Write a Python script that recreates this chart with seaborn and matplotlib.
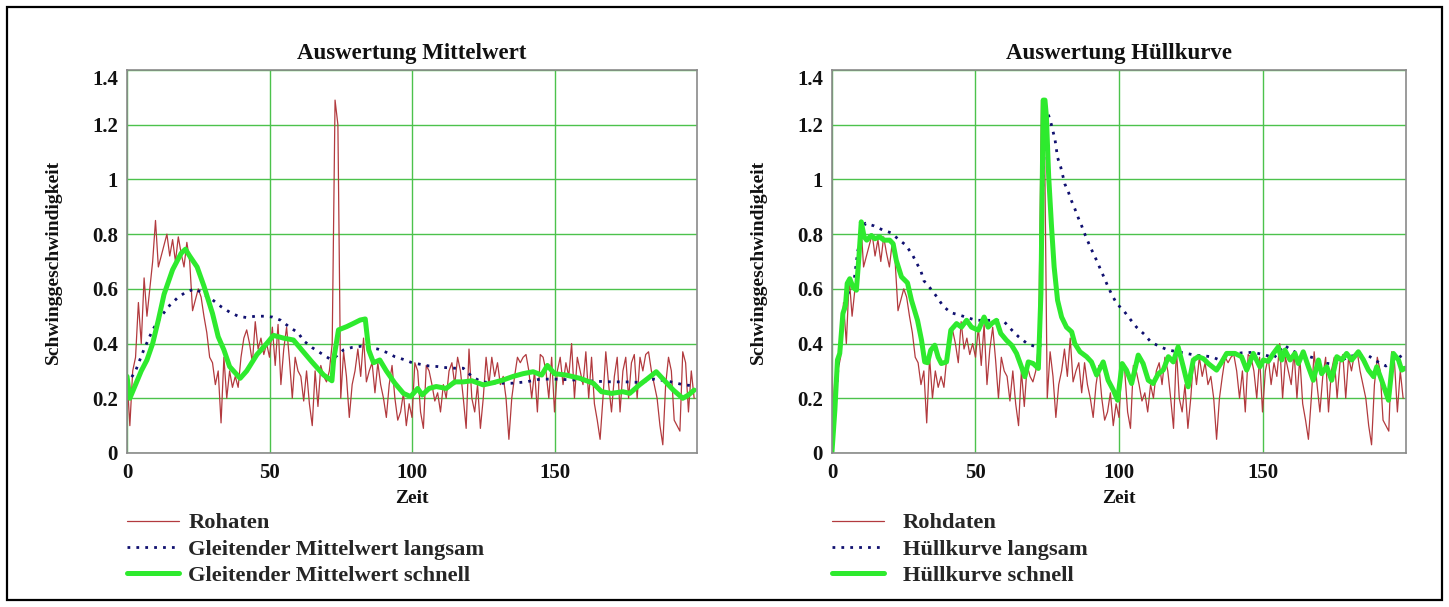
import numpy as np
import pandas as pd
import matplotlib
matplotlib.use("Agg")
import matplotlib.pyplot as plt
from matplotlib.patches import Rectangle
import seaborn as sns

# ---------------- data ----------------
raw_values = [
    0.28, 0.10, 0.30, 0.35, 0.55, 0.40, 0.64, 0.50, 0.60, 0.70,
    0.85, 0.68, 0.72, 0.76, 0.80, 0.72, 0.78, 0.70, 0.79, 0.73,
    0.68, 0.77, 0.70, 0.52, 0.56, 0.60, 0.57, 0.50, 0.44, 0.35,
    0.33, 0.25, 0.30, 0.11, 0.35, 0.20, 0.30, 0.24, 0.28, 0.24,
    0.35, 0.42, 0.45, 0.40, 0.33, 0.48, 0.38, 0.42, 0.36, 0.40,
    0.35, 0.46, 0.32, 0.47, 0.25, 0.38, 0.46, 0.34, 0.20, 0.35,
    0.30, 0.28, 0.19, 0.30, 0.18, 0.10, 0.30, 0.17, 0.32, 0.28,
    0.26, 0.30, 0.40, 1.29, 1.20, 0.20, 0.37, 0.28, 0.13, 0.25,
    0.30, 0.38, 0.28, 0.42, 0.26, 0.30, 0.33, 0.22, 0.33, 0.25,
    0.20, 0.13, 0.25, 0.32, 0.20, 0.12, 0.15, 0.22, 0.10, 0.18,
    0.13, 0.33, 0.30, 0.15, 0.09, 0.32, 0.30, 0.25, 0.19, 0.22,
    0.15, 0.25, 0.20, 0.30, 0.33, 0.25, 0.35, 0.30, 0.20, 0.09,
    0.38, 0.20, 0.15, 0.25, 0.09, 0.20, 0.35, 0.25, 0.35, 0.28,
    0.33, 0.25, 0.28, 0.20, 0.05, 0.20, 0.28, 0.35, 0.33, 0.35,
    0.36, 0.30, 0.20, 0.30, 0.15, 0.36, 0.35, 0.30, 0.20, 0.35,
    0.15, 0.30, 0.35, 0.25, 0.33, 0.28, 0.40, 0.20, 0.35, 0.30,
    0.25, 0.37, 0.20, 0.35, 0.18, 0.12, 0.05, 0.20, 0.37, 0.25,
    0.15, 0.28, 0.35, 0.15, 0.30, 0.35, 0.20, 0.33, 0.36, 0.20,
    0.35, 0.30, 0.36, 0.37, 0.30, 0.25, 0.20, 0.10, 0.03, 0.25,
    0.35, 0.30, 0.12, 0.10, 0.08, 0.37, 0.33, 0.15, 0.30, 0.20,
]
raw_time = list(range(len(raw_values)))

mean_slow_t = [0, 3, 6, 9, 12, 15, 18, 21, 24, 27, 30, 33, 36, 39, 42, 45, 48, 51, 54,
               57, 60, 62, 65, 68, 71, 73, 76, 79, 82, 85, 88, 91, 94, 97, 100, 103,
               106, 109, 112, 115, 118, 121, 124, 127, 130, 135, 140, 145, 150, 155,
               160, 165, 170, 175, 180, 185, 190, 195, 199]
mean_slow_v = [0.25, 0.30, 0.38, 0.45, 0.50, 0.54, 0.57, 0.59, 0.60, 0.58, 0.56, 0.535,
               0.515, 0.50, 0.495, 0.50, 0.50, 0.497, 0.485, 0.46, 0.44, 0.41, 0.385,
               0.365, 0.345, 0.35, 0.377, 0.386, 0.39, 0.386, 0.38, 0.368, 0.352, 0.342,
               0.33, 0.324, 0.318, 0.316, 0.312, 0.31, 0.31, 0.28, 0.262, 0.257, 0.255,
               0.255, 0.26, 0.27, 0.27, 0.268, 0.265, 0.262, 0.26, 0.26, 0.258, 0.27,
               0.262, 0.25, 0.245]

mean_fast_t = [0, 1, 3, 5, 7, 9, 11, 13, 16, 19, 20.5, 22, 24.6, 27, 30, 32, 34, 36,
               39.7, 42, 45.6, 49, 51.4, 54.9, 58.4, 61.3, 64.8, 69, 71.9, 72.5, 74.2,
               77.1, 79.5, 81.8, 83.6, 84.8, 86.5, 88.7, 91, 94, 97, 99.5, 102, 103.6,
               106, 108.5, 112, 115, 118, 121, 125, 128.5, 132, 135.5, 139, 142.5,
               145.5, 147.5, 150, 154, 158.9, 163.6, 166.5, 170, 174, 176.4, 179.8,
               182.8, 185.7, 189, 191.7, 195, 197, 199]
mean_fast_v = [0.28, 0.20, 0.25, 0.30, 0.34, 0.40, 0.486, 0.58, 0.67, 0.73, 0.745, 0.72,
               0.68, 0.61, 0.51, 0.425, 0.377, 0.316, 0.273, 0.30, 0.36, 0.40, 0.43,
               0.42, 0.413, 0.377, 0.334, 0.285, 0.264, 0.34, 0.45, 0.462, 0.474, 0.486,
               0.49, 0.377, 0.33, 0.34, 0.30, 0.255, 0.218, 0.206, 0.236, 0.212, 0.236,
               0.243, 0.236, 0.26, 0.26, 0.264, 0.249, 0.257, 0.267, 0.28, 0.29, 0.297,
               0.285, 0.32, 0.29, 0.285, 0.273, 0.255, 0.224, 0.218, 0.224, 0.218,
               0.249, 0.273, 0.297, 0.26, 0.23, 0.20, 0.212, 0.23]

env_slow_t = [0, 2, 4, 6, 7.7, 9, 11.6, 14.7, 17.5, 20.5, 23.3, 25.7, 28, 31, 32, 34.4,
              36.6, 38.7, 41.4, 44.5, 47.4, 50.3, 54, 57, 60, 62.6, 65, 68, 71, 72.5,
              73.5, 74.5, 75.3, 76.3, 77, 77.7, 78.6, 79.7, 81.1, 82.3, 83.4, 84.6,
              85.8, 87, 88.1, 89.5, 90.8, 92.2, 93.6, 95, 96.2, 97.6, 99.2, 101.5,
              103.9, 106.1, 108.8, 111.1, 114, 117.2, 120.6, 123.5, 126.4, 129.3,
              132.3, 135, 138, 142.7, 146.8, 151, 154, 157.6, 160, 162, 167.7, 170.6,
              174.6, 180.9, 187, 190.2, 193, 199.1]
env_slow_v = [0.0, 0.30, 0.50, 0.60, 0.63, 0.74, 0.84, 0.83, 0.816, 0.805, 0.78, 0.76,
              0.725, 0.664, 0.63, 0.60, 0.57, 0.537, 0.513, 0.504, 0.494, 0.485, 0.485,
              0.485, 0.48, 0.45, 0.425, 0.40, 0.388, 0.39, 1.0, 1.25, 1.24, 1.206,
              1.176, 1.146, 1.08, 1.045, 0.984, 0.956, 0.923, 0.893, 0.86, 0.83, 0.80,
              0.765, 0.735, 0.704, 0.67, 0.637, 0.607, 0.577, 0.546, 0.522, 0.489,
              0.46, 0.434, 0.406, 0.39, 0.376, 0.37, 0.364, 0.358, 0.355, 0.352, 0.34,
              0.358, 0.366, 0.368, 0.358, 0.348, 0.394, 0.376, 0.366, 0.348, 0.33,
              0.325, 0.355, 0.355, 0.333, 0.318, 0.36]

env_fast_t = [0, 1, 1.9, 2.7, 3.8, 4.7, 5.3, 6.2, 7.3, 8.5, 9.4, 10.2, 11.2, 12.1, 13.7,
              14.9, 16.6, 18.1, 20.1, 21.3, 22.4, 24.2, 26.3, 27.7, 29.8, 31.2, 32.3,
              33.3, 34.4, 35.8, 37, 38.1, 39.9, 41.4, 43.4, 45.1, 46.9, 48.6, 51, 53,
              54.4, 55.6, 57.3, 58.8, 60.8, 62.6, 64.3, 66, 67.2, 68.4, 70.1, 71.9,
              72.8, 73.6, 74.2, 74.7, 75.5, 76.5, 77.4, 78.6, 80, 81.7, 83.5, 84.6,
              86.4, 88.7, 90.4, 92.2, 94.5, 96.2, 98, 99.5, 101.1, 102.6, 104.4, 106.7,
              108.4, 110.2, 111.9, 113.7, 115.4, 117.2, 118.9, 120.6, 122.4, 124.1,
              125.9, 127.6, 129.4, 131.1, 134, 135.8, 137.5, 140.4, 142.7, 144.5,
              146.8, 149.1, 150.3, 152, 153.8, 155.5, 156.7, 157.8, 159.6, 161.3,
              162.5, 164.2, 166, 167.7, 169.5, 170.6, 172.4, 174.1, 175.9, 177.6,
              179.3, 181.1, 183.4, 185.2, 186.9, 188.7, 189.8, 191.5, 193.9, 195.6,
              197.4, 198.5, 199.7]
env_fast_v = [0.005, 0.157, 0.34, 0.364, 0.51, 0.54, 0.62, 0.637, 0.607, 0.595, 0.72,
              0.845, 0.79, 0.778, 0.795, 0.783, 0.79, 0.778, 0.778, 0.765, 0.704, 0.644,
              0.622, 0.558, 0.485, 0.412, 0.333, 0.33, 0.376, 0.394, 0.35, 0.327, 0.333,
              0.449, 0.473, 0.46, 0.485, 0.46, 0.449, 0.497, 0.46, 0.473, 0.485, 0.437,
              0.412, 0.394, 0.364, 0.315, 0.279, 0.333, 0.327, 0.309, 0.583, 1.29, 1.29,
              1.23, 1.01, 0.826, 0.68, 0.558, 0.497, 0.46, 0.443, 0.40, 0.37, 0.352,
              0.333, 0.285, 0.333, 0.266, 0.23, 0.193, 0.327, 0.303, 0.254, 0.358,
              0.327, 0.266, 0.254, 0.29, 0.303, 0.352, 0.333, 0.388, 0.315, 0.242, 0.34,
              0.352, 0.345, 0.327, 0.303, 0.333, 0.364, 0.364, 0.352, 0.303, 0.364,
              0.315, 0.34, 0.335, 0.364, 0.388, 0.34, 0.376, 0.34, 0.364, 0.327, 0.37,
              0.315, 0.266, 0.34, 0.29, 0.315, 0.266, 0.352, 0.34, 0.364, 0.34, 0.37,
              0.34, 0.303, 0.279, 0.315, 0.266, 0.193, 0.364, 0.34, 0.303, 0.31]

x_ticks = [0, 50, 100, 150]
y_ticks = [0, 0.2, 0.4, 0.6, 0.8, 1.0, 1.2, 1.4]
y_tick_labels = ["0", "0.2", "0.4", "0.6", "0.8", "1", "1.2", "1.4"]

titles = ["Auswertung Mittelwert", "Auswertung Hüllkurve"]
x_label = "Zeit"
y_label = "Schwinggeschwindigkeit"
labels_left = ["Rohaten", "Gleitender Mittelwert langsam", "Gleitender Mittelwert schnell"]
labels_right = ["Rohdaten", "Hüllkurve langsam", "Hüllkurve schnell"]

# ---------------- style ----------------
sns.set_theme(style="white")
plt.rcParams["font.family"] = ["Liberation Serif", "DejaVu Serif"]
plt.rcParams["font.weight"] = "bold"
plt.rcParams["axes.titleweight"] = "bold"
plt.rcParams["axes.labelweight"] = "bold"

RAW_C = "#b23a3e"
SLOW_C = "#101070"
FAST_C = "#2eea2e"
GRID_C = "#4cc24c"
FRAME_C = "#8a8a8a"
TXT_C = "#111111"

W, H = 1449, 607
fig = plt.figure(figsize=(W / 100, H / 100), dpi=100)
fig.patch.set_facecolor("white")

ax_l = fig.add_axes([127 / W, 1 - 453 / H, 570 / W, 383 / H])
ax_r = fig.add_axes([832 / W, 1 - 453 / H, 574 / W, 383 / H])

panels = [
    (ax_l, mean_slow_t, mean_slow_v, mean_fast_t, mean_fast_v, labels_left, titles[0], 0.42),
    (ax_r, env_slow_t, env_slow_v, env_fast_t, env_fast_v, labels_right, titles[1], 0.85),
]

for ax, st, sv, ft, fv, labels, title, htp in panels:
    sns.lineplot(x=raw_time, y=raw_values, ax=ax, color=RAW_C, lw=0.9,
                 estimator=None, sort=False, label=labels[0])
    sns.lineplot(x=st, y=sv, ax=ax, color=SLOW_C, lw=2.0, estimator=None, sort=False,
                 label=labels[1], linestyle=(0, (1, 2.2)))
    sns.lineplot(x=ft, y=fv, ax=ax, color=FAST_C, lw=3.6, estimator=None, sort=False,
                 label=labels[2])
    ax.set_xlim(0, 200)
    ax.set_ylim(0, 1.4)
    ax.set_xticks(x_ticks)
    ax.set_yticks(y_ticks)
    ax.set_yticklabels(y_tick_labels)
    ax.grid(True, color=GRID_C, lw=1.0)
    ax.set_axisbelow(True)
    for sp in ax.spines.values():
        sp.set_color(FRAME_C)
        sp.set_linewidth(1.2)
    ax.tick_params(axis="both", length=0, labelsize=15)
    ax.tick_params(axis="x", pad=7)
    ax.tick_params(axis="y", pad=6.5)
    for t in ax.get_xticklabels() + ax.get_yticklabels():
        t.set_fontweight("bold")
        t.set_color(TXT_C)
    ax.get_yticklabels()[-1].set_verticalalignment("top")
    ax.set_title(title, fontsize=16.5, fontweight="bold", pad=8, color=TXT_C)
    ax.set_xlabel(x_label, fontsize=14, fontweight="bold", color=TXT_C)
    ax.set_ylabel(y_label, fontsize=14, fontweight="bold", color=TXT_C)
    ax.xaxis.set_label_coords(0.5, -0.097)
    ax.yaxis.set_label_coords(-0.114, 0.5)
    handles, _ = ax.get_legend_handles_labels()
    ax.legend(handles, labels, loc="upper left", bbox_to_anchor=(0.0, -0.156),
              frameon=False, handlelength=2.3, handletextpad=htp,
              labelspacing=0.25, borderpad=0, borderaxespad=0,
              prop={"family": "Liberation Serif", "weight": "bold", "size": 16.2})

fig.add_artist(Rectangle((7 / W, 7 / H), 1 - 14 / W, 1 - 14 / H, transform=fig.transFigure,
                         fill=False, edgecolor="black", lw=1.6))

fig.savefig("out.png", dpi=100, facecolor="white")
